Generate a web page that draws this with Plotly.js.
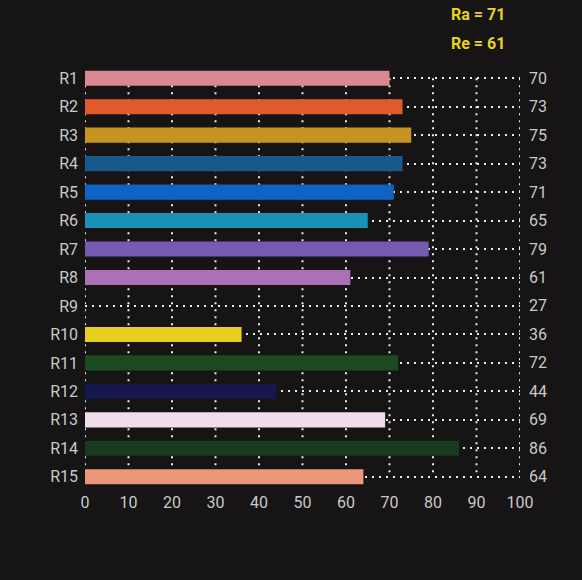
<!DOCTYPE html>
<html>
<head>
<meta charset="utf-8">
<script src="https://cdn.plot.ly/plotly-3.0.1.min.js"></script>
<style>
html,body{margin:0;padding:0;background:#161414;}
#chart{width:582px;height:580px;}
</style>
</head>
<body>
<div id="chart"></div>
<script>
const categories = ["R1","R2","R3","R4","R5","R6","R7","R8","R9","R10","R11","R12","R13","R14","R15"];
const values = [70,73,75,73,71,65,79,61,27,36,72,44,69,86,64];
const barColors = ["#d98891","#e05a2c","#c7951f","#17598a","#0f62c6","#1990b6","#7659b0","#ad6fb7","rgba(0,0,0,0)","#e6cf1f","#1b4a21","#15184d","#f2dcec","#163b1f","#e99679"];
const xTicks = [0,10,20,30,40,50,60,70,80,90,100];
const summary = ["Ra = 71","Re = 61"];

const gridColor = "#ececec";
const textColor = "#c9c9c9";
const fontFam = "Roboto, 'DejaVu Sans', sans-serif";

const traces = [{
  type: "bar",
  orientation: "h",
  x: values,
  y: categories,
  marker: {color: barColors, line: {width: 0}},
  width: 0.53,
  hoverinfo: "skip"
}];

const shapes = xTicks.map(t => ({
  type: "line", layer: "below", xref: "x", yref: "y",
  x0: t, x1: t, y0: categories[0], y1: categories[categories.length-1],
  line: {color: gridColor, width: 2, dash: "2px,5px"}
}));

const annotations = categories.map((c, i) => ({
  xref: "paper", yref: "y", x: 1, y: c, xanchor: "left", xshift: 7,
  text: String(values[i]), showarrow: false,
  font: {family: fontFam, size: 16, color: textColor}
}));
const summaryY = [1.117, 1.047];
summary.forEach((s, i) => annotations.push({
  xref: "paper", yref: "paper", x: 0.903, y: summaryY[i], xanchor: "center", yanchor: "middle",
  text: "<b>" + s + "</b>", showarrow: false,
  font: {family: fontFam, size: 16, color: "#e8d41c"}
}));

const layout = {
  width: 582, height: 580,
  margin: {l: 85, r: 62, t: 64, b: 89},
  paper_bgcolor: "#161414",
  plot_bgcolor: "#161414",
  showlegend: false,
  xaxis: {
    range: [0, 100], tickvals: xTicks, ticktext: xTicks.map(String),
    showgrid: false, zeroline: false, showline: false, ticks: "",
    tickfont: {family: fontFam, size: 16, color: textColor},
    fixedrange: true
  },
  yaxis: {
    autorange: "reversed", type: "category",
    showgrid: true, gridcolor: gridColor, gridwidth: 2, griddash: "2px,5px",
    zeroline: false, showline: false, ticks: "", ticklabelstandoff: 6,
    tickfont: {family: fontFam, size: 16, color: textColor},
    fixedrange: true
  },
  shapes: shapes,
  annotations: annotations
};

Plotly.newPlot("chart", traces, layout, {displayModeBar: false, staticPlot: true});
</script>
</body>
</html>
